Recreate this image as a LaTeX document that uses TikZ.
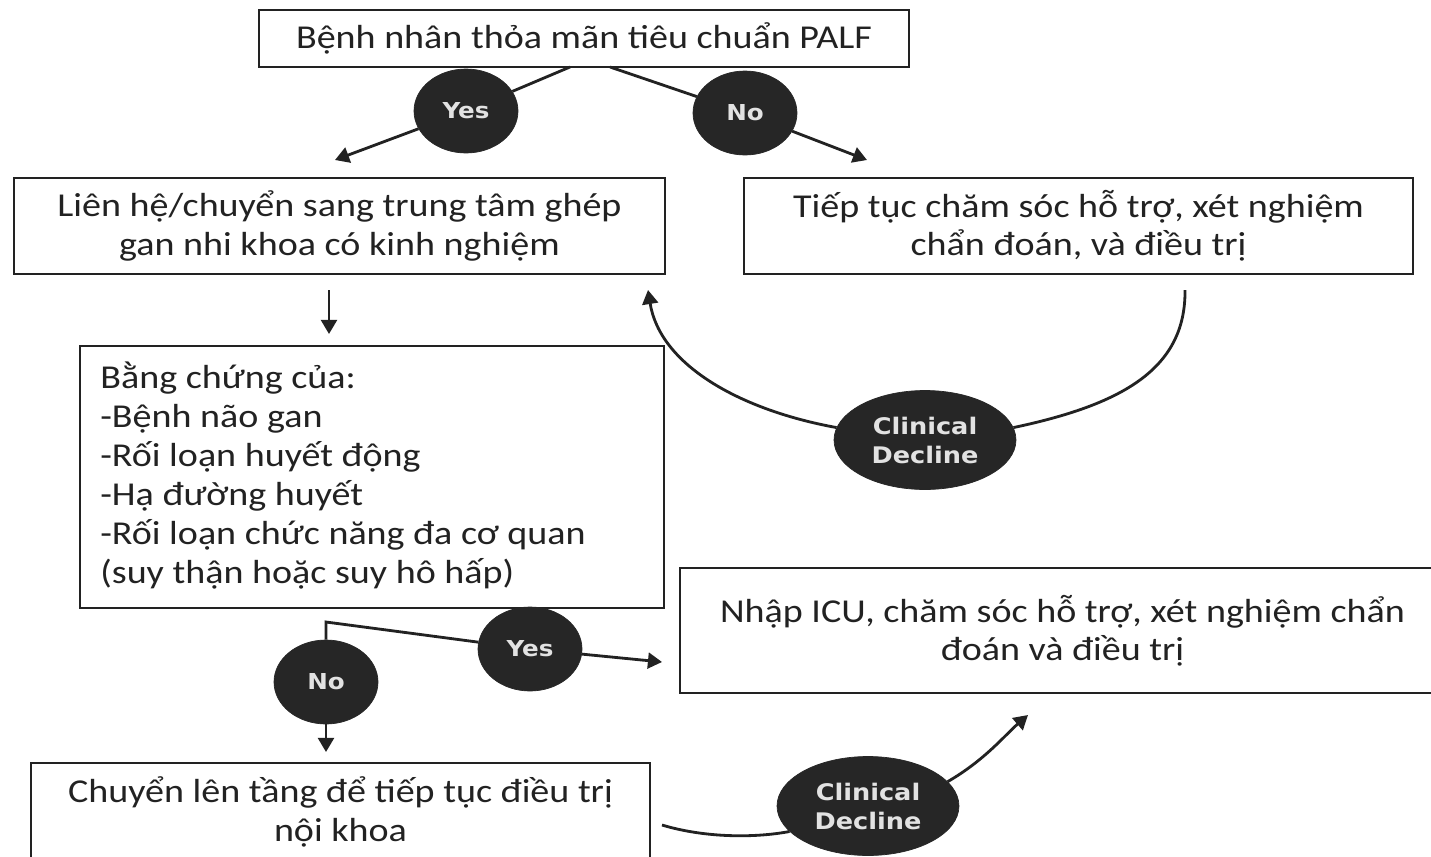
\documentclass[tikz,border=0pt]{standalone}
\usepackage{fontspec}
\setmainfont{Carlito}[FakeStretch=1.14]
\newfontfamily\lblfont{DejaVu Sans}[FakeStretch=1.12]
\usetikzlibrary{arrows.meta,shapes.geometric}
\definecolor{ink}{HTML}{222222}
\definecolor{blob}{HTML}{262626}
\definecolor{lbl}{HTML}{E2E2E2}
\tikzset{
  box/.style={draw=ink, line width=1.6pt, rectangle, inner sep=0pt, align=center,
    font=\fontsize{19}{21.8}\selectfont, text=ink},
  plaintext/.style={inner sep=0pt, align=left, text=ink, font=\fontsize{19}{22.2}\selectfont},
  blobyn/.style={ellipse, fill=blob, draw=blob, minimum width=2.08cm, minimum height=1.68cm,
    inner sep=0pt, text=lbl, font=\lblfont\bfseries\fontsize{12.5}{14}\selectfont},
  blobcd/.style={ellipse, fill=blob, draw=blob, minimum width=3.64cm, minimum height=1.98cm,
    inner sep=0pt, align=center, text=lbl, font=\lblfont\bfseries\fontsize{13}{16.5}\selectfont},
  conn/.style={draw=ink, line width=1.6pt},
  arr/.style={conn, -{Triangle[width=9pt,length=8pt]}},
}
\begin{document}
\begin{tikzpicture}[x=0.02cm,y=-0.02cm]
\useasboundingbox (0,0) rectangle (1431,856);
\fill[white] (0,0) rectangle (1431,856);

% boxes
\node[box, minimum width=13cm, minimum height=1.14cm] (top) at (584,38.5)
  {Bệnh nhân thỏa mãn tiêu chuẩn PALF};
\node[box, minimum width=13.02cm, minimum height=1.92cm] (left) at (339.5,226)
  {Liên hệ/chuyển sang trung tâm ghép\\gan nhi khoa có kinh nghiệm};
\node[box, minimum width=13.38cm, minimum height=1.92cm] (right) at (1078.5,226)
  {Tiếp tục chăm sóc hỗ trợ, xét nghiệm\\chẩn đoán, và điều trị};
\node[box, minimum width=11.68cm, minimum height=5.24cm] (mid) at (372,477) {};
\node[plaintext, anchor=west] (midtext) at (100,476)
  {Bằng chứng của:\\-Bệnh não gan\\-Rối loạn huyết động\\-Hạ đường huyết\\-Rối loạn chức năng đa cơ quan\\(suy thận hoặc suy hô hấp)};
\node[box, minimum width=15.3cm, minimum height=2.5cm] (icu) at (1062.5,630.5)
  {Nhập ICU, chăm sóc hỗ trợ, xét nghiệm chẩn\\đoán và điều trị};
\node[box, minimum width=12.38cm, minimum height=1.96cm] (bot) at (340.5,812)
  {Chuyển lên tầng để tiếp tục điều trị\\nội khoa};

% decision blobs
\node[blobyn] (yes1) at (466,111) {Yes};
\node[blobyn] (no1) at (745,113) {No};
\node[blobcd] (cd1) at (925,440) {Clinical\\Decline};
\node[blobyn] (yes2) at (530,649) {Yes};
\node[blobyn] (no2) at (326,682) {No};
\node[blobcd] (cd2) at (868,806) {Clinical\\Decline};

% connector end points
\coordinate (t1) at (570,67);
\coordinate (t2) at (610,67);
\coordinate (a1) at (335,160);
\coordinate (a2) at (867,160);
\coordinate (l1) at (329,290);
\coordinate (l2) at (329,334);
\coordinate (r1) at (1185,290);
\coordinate (a3) at (648,290);
\coordinate (k) at (326,622);
\coordinate (a4) at (662,662);
\coordinate (a5) at (326,752);
\coordinate (b1) at (662,825);
\coordinate (a6) at (1028,715);

% connectors
\draw[conn] (t1) -- (yes1);
\draw[arr] (yes1) -- (a1);
\draw[conn] (t2) -- (no1);
\draw[arr] (no1) -- (a2);
\draw[arr] (l1) -- (l2);
\draw[conn] (r1) .. controls (1186,370) and (1120,405) .. (cd1.8);
\draw[arr] (cd1.172) .. controls (740,410) and (660,365) .. (a3);
\draw[conn] (no2) -- (k) -- (yes2);
\draw[arr] (yes2) -- (a4);
\draw[arr] (no2) -- (a5);
\draw[conn] (b1) .. controls (705,838) and (755,838) .. (cd2.198);
\draw[arr] (cd2.17) .. controls (985,760) and (1005,735) .. (a6);
\end{tikzpicture}
\end{document}
